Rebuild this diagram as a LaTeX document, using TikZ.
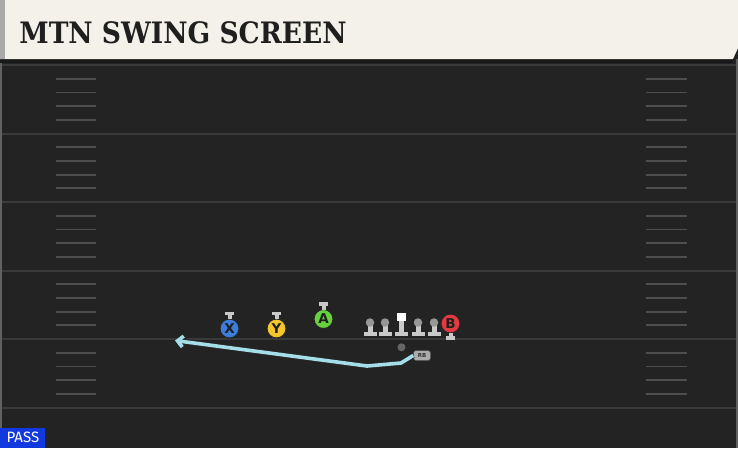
\documentclass[tikz,border=0pt]{standalone}
\usepackage{fontspec}
\newfontfamily\titlefont{DejaVu Serif Condensed Bold}
\newfontfamily\tagfont{Fira Sans}
\newfontfamily\letterfont{DejaVu Sans}
\usetikzlibrary{arrows.meta}

\definecolor{turf}{HTML}{232323}
\definecolor{yardline}{HTML}{3A3A3A}
\definecolor{banner}{HTML}{F4F1EB}
\definecolor{bannerside}{HTML}{A9A9A9}
\definecolor{xblue}{HTML}{3D7DDB}
\definecolor{yyellow}{HTML}{F4C62B}
\definecolor{agreen}{HTML}{66D23E}
\definecolor{bred}{HTML}{E23A40}
\definecolor{stancegrey}{HTML}{C9C9C9}
\definecolor{routecyan}{HTML}{A4DEE8}
\definecolor{passblue}{HTML}{1238E0}

\tikzset{every picture/.style={line width=0.75pt}}
\tikzset{
  player/.style={circle, fill=#1, draw=black!85, line width=1pt, minimum size=19pt, inner sep=0pt, outer sep=0pt,
    font=\letterfont\bfseries\fontsize{13.5}{13.5}\selectfont, text=black!88},
  stancebar/.style={stancegrey, line width=3.5pt},
  stancestem/.style={stancegrey, line width=4pt},
  lineman/.style={circle, fill=stancegrey!75!black, minimum size=8.5pt, inner sep=0pt, outer sep=0pt},
  route/.style={routecyan, line width=3.6pt, line join=round},
}

\begin{document}
\begin{tikzpicture}[x=1pt,y=1pt,yscale=-1,xscale=1]
    \useasboundingbox (0,0) rectangle (738,448);

    %Field
    \fill[turf] (0,0) rectangle (738,448);
    \fill[yardline!80!white] (0,59) rectangle (2,448);
    \fill[yardline!80!white] (736,59) rectangle (738,448);
    %Yard lines
    \foreach \i in {0,...,5}
      \draw[yardline, line width=2pt] (2,65+68.5*\i) -- (736,65+68.5*\i);
    %Hash marks
    \foreach \i in {0,...,4}
      \foreach \k in {1,...,4} {
        \draw[yardline!90!white, line width=1.8pt] (56,65+68.5*\i+13.7*\k) -- (96,65+68.5*\i+13.7*\k);
        \draw[yardline!90!white, line width=1.8pt] (646,65+68.5*\i+13.7*\k) -- (687,65+68.5*\i+13.7*\k);
      }

    %Banner
    \fill[black!90] (0,59) rectangle (733,62.5);
    \fill[banner] (0,0) -- (738,0) -- (738,48) -- (733,59) -- (0,59) -- cycle;
    \fill[bannerside] (0,0) rectangle (5,59);
    % Text Node
    \node[anchor=west, inner sep=0pt, text=black!88, font=\titlefont\fontsize{29.5}{29.5}\selectfont] (title) at (19,32.5) {MTN SWING SCREEN};

    %Receivers
    \node[player=xblue] (X) at (229.5,328.5) {X};
    \node[player=yyellow] (Y) at (276.5,328.5) {Y};
    \node[player=agreen] (A) at (323.5,319) {A};
    \node[player=bred] (B) at (450.5,323.5) {B};
    \foreach \p in {X,Y,A} {
      \draw[stancestem] (\p.north) -- ++(0,-5);
      \draw[stancebar] (\p.north) ++(-4.5,-5.5) -- ++(9,0);
    }
    \draw[stancestem] (B.south) -- ++(0,4);
    \draw[stancebar] (B.south) ++(-4.5,5) -- ++(9,0);

    %Line
    \foreach \x/\n in {370/lt,385/lg,418/rg,434/rt} {
      \draw[stancegrey, line width=4.5pt] (\x-6.5,334) -- (\x+6.5,334);
      \draw[stancegrey, line width=5pt] (\x,324) -- (\x,333);
      \node[lineman] (\n) at (\x,322.5) {};
    }
    \draw[stancegrey, line width=4.5pt] (395,334) -- (408,334);
    \draw[stancegrey, line width=5pt] (401.5,320) -- (401.5,333);
    \node[rectangle, fill=white, minimum size=8.5pt, inner sep=0pt] (C) at (401.5,317) {};

    %Back
    \node[circle, fill=black!60, minimum size=8pt, inner sep=0pt] (QB) at (401.5,347.3) {};
    \node[rectangle, rounded corners=2.5pt, fill=black!33, draw=black!70, line width=0.5pt, minimum width=17pt, minimum height=10pt, inner sep=0pt,
      font=\letterfont\bfseries\fontsize{5.5}{5.5}\selectfont, text=black!80] (RB) at (422,355.5) {RB};

    %Route
    \coordinate (catch) at (175,340.5);
    \draw[black!85, line width=5.5pt, line join=round, -{Straight Barb[length=6.5pt,width=13pt,line width=5pt]}]
      (RB.west) -- (401,363) -- (367,366) -- (catch);
    \draw[route, -{Straight Barb[length=5.5pt,width=11pt,line width=3.6pt]}]
      (RB.west) -- (401,363) -- (367,366) -- (catch);

    %Play type
    \node[anchor=south west, fill=passblue, text=white, minimum width=45pt, minimum height=20pt, inner sep=0pt,
      font=\tagfont\fontsize{15}{15}\selectfont] (pass) at (0,448) {PASS};

\end{tikzpicture}
\end{document}
